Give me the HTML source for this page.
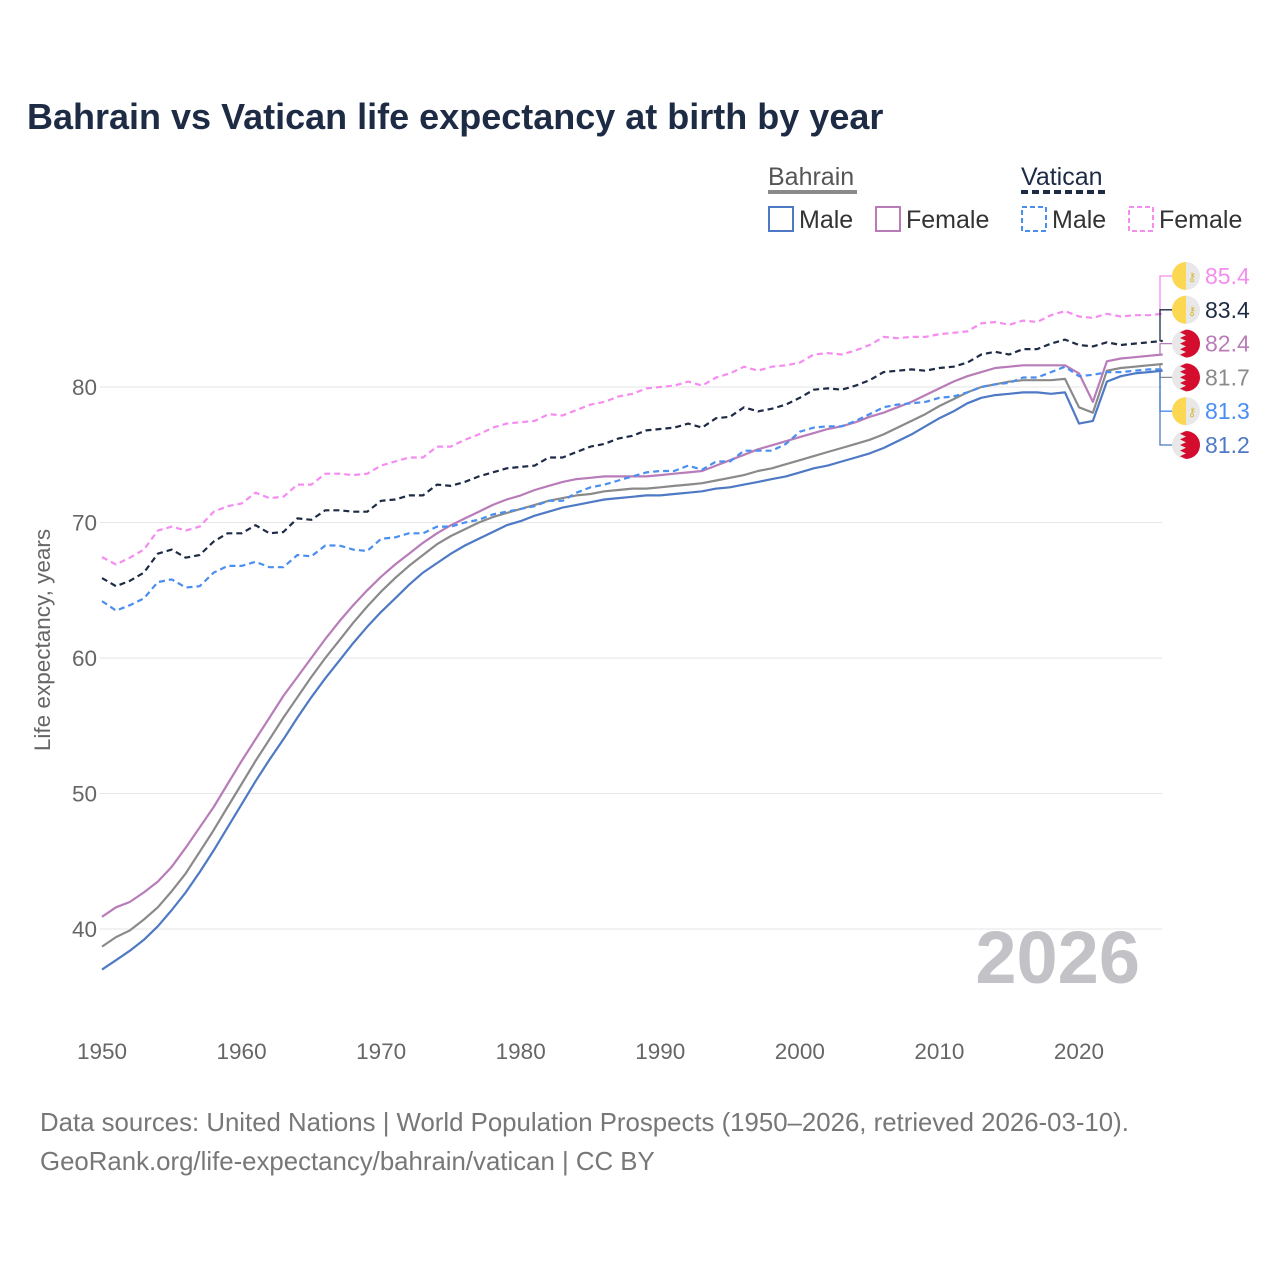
<!DOCTYPE html>
<html><head><meta charset="utf-8">
<style>
body{margin:0;background:#fff;font-family:"Liberation Sans",sans-serif;}
#wrap{position:relative;width:1280px;height:1280px;overflow:hidden;}
</style></head>
<body>
<div id="wrap">
<svg id="chart" width="1280" height="1280" xmlns="http://www.w3.org/2000/svg">
<text x="27" y="129" font-size="36" font-weight="bold" fill="#1e2b45">Bahrain vs Vatican life expectancy at birth by year</text>
<g font-size="25">
<text x="768" y="185" fill="#555">Bahrain</text>
<line x1="768" y1="192" x2="857" y2="192" stroke="#8a8a8a" stroke-width="4"/>
<text x="1021" y="185" fill="#1e2b45">Vatican</text>
<line x1="1021" y1="192" x2="1107" y2="192" stroke="#1e2b45" stroke-width="4" stroke-dasharray="7,4"/>
<g><rect x="769" y="207" width="24" height="24" fill="none" stroke="#4e79c4" stroke-width="2"/><text x="799" y="228" fill="#333">Male</text></g>
<g><rect x="876" y="207" width="24" height="24" fill="none" stroke="#b87db8" stroke-width="2"/><text x="906" y="228" fill="#333">Female</text></g>
<g><rect x="1022" y="207" width="24" height="24" fill="none" stroke="#4a8ef0" stroke-width="2" stroke-dasharray="5,3"/><text x="1052" y="228" fill="#333">Male</text></g>
<g><rect x="1129" y="207" width="24" height="24" fill="none" stroke="#f58cf0" stroke-width="2" stroke-dasharray="5,3"/><text x="1159" y="228" fill="#333">Female</text></g>
</g>
<text transform="translate(50,640) rotate(-90)" text-anchor="middle" font-size="22.5" fill="#666">Life expectancy, years</text>
<g id="grid"></g>
<text x="1140" y="983" text-anchor="end" font-size="74" font-weight="bold" fill="#c2c2c7">2026</text>
<g id="lines"></g>
<g id="ends"></g>
<text x="40" y="1131" font-size="25.8" fill="#777">Data sources: United Nations | World Population Prospects (1950–2026, retrieved 2026-03-10).</text>
<text x="40" y="1170" font-size="25.8" fill="#777">GeoRank.org/life-expectancy/bahrain/vatican | CC BY</text>
</svg>
</div>
<script>
const startYear = 1950;
const yTicks = [40, 50, 60, 70, 80];
const xTicks = [1950, 1960, 1970, 1980, 1990, 2000, 2010, 2020];
const bahrainMale = [37.0,37.7,38.4,39.2,40.2,41.4,42.7,44.2,45.8,47.5,49.2,50.9,52.5,54.0,55.6,57.1,58.5,59.8,61.1,62.3,63.4,64.4,65.4,66.3,67.0,67.7,68.3,68.8,69.3,69.8,70.1,70.5,70.8,71.1,71.3,71.5,71.7,71.8,71.9,72.0,72.0,72.1,72.2,72.3,72.5,72.6,72.8,73.0,73.2,73.4,73.7,74.0,74.2,74.5,74.8,75.1,75.5,76.0,76.5,77.1,77.7,78.2,78.8,79.2,79.4,79.5,79.6,79.6,79.5,79.6,77.3,77.5,80.4,80.8,81.0,81.1,81.2];
const bahrainTotal = [38.7,39.4,39.9,40.7,41.6,42.8,44.1,45.7,47.3,49.0,50.7,52.4,54.0,55.6,57.1,58.6,60.0,61.3,62.6,63.8,64.9,65.9,66.8,67.6,68.4,69.0,69.5,70.0,70.4,70.7,71.0,71.3,71.6,71.8,72.0,72.1,72.3,72.4,72.5,72.5,72.6,72.7,72.8,72.9,73.1,73.3,73.5,73.8,74.0,74.3,74.6,74.9,75.2,75.5,75.8,76.1,76.5,77.0,77.5,78.0,78.6,79.1,79.6,80.0,80.2,80.4,80.5,80.5,80.5,80.6,78.5,78.1,81.2,81.4,81.5,81.6,81.7];
const bahrainFemale = [40.9,41.6,42.0,42.7,43.5,44.6,46.0,47.5,49.0,50.7,52.4,54.0,55.6,57.2,58.6,60.0,61.4,62.7,63.9,65.0,66.0,66.9,67.7,68.5,69.2,69.8,70.3,70.8,71.3,71.7,72.0,72.4,72.7,73.0,73.2,73.3,73.4,73.4,73.4,73.4,73.5,73.6,73.7,73.8,74.2,74.6,75.0,75.4,75.7,76.0,76.3,76.6,76.9,77.1,77.4,77.8,78.1,78.5,78.9,79.4,79.9,80.4,80.8,81.1,81.4,81.5,81.6,81.6,81.6,81.6,81.0,78.9,81.9,82.1,82.2,82.3,82.4];
const vaticanMale = [64.2,63.5,63.9,64.4,65.6,65.8,65.2,65.3,66.3,66.8,66.8,67.1,66.7,66.7,67.6,67.5,68.3,68.3,68.0,67.9,68.8,68.9,69.2,69.2,69.7,69.7,70.0,70.2,70.6,70.8,71.0,71.2,71.6,71.6,72.2,72.6,72.8,73.1,73.4,73.7,73.8,73.8,74.2,73.9,74.5,74.5,75.3,75.3,75.3,75.8,76.7,77.0,77.1,77.1,77.5,78.0,78.5,78.7,78.8,78.9,79.2,79.3,79.6,80.0,80.2,80.3,80.7,80.7,81.1,81.5,80.8,80.9,81.1,81.1,81.2,81.3,81.3];
const vaticanTotal = [65.9,65.3,65.7,66.3,67.7,68.0,67.4,67.6,68.6,69.2,69.2,69.8,69.2,69.3,70.3,70.2,70.9,70.9,70.8,70.8,71.6,71.7,72.0,72.0,72.8,72.7,73.0,73.4,73.7,74.0,74.1,74.2,74.8,74.8,75.2,75.6,75.8,76.2,76.4,76.8,76.9,77.0,77.3,77.0,77.7,77.8,78.5,78.2,78.4,78.7,79.2,79.8,79.9,79.8,80.1,80.5,81.1,81.2,81.3,81.2,81.4,81.5,81.8,82.4,82.6,82.4,82.8,82.8,83.2,83.5,83.1,83.0,83.3,83.1,83.2,83.3,83.4];
const vaticanFemale = [67.45,66.9,67.4,68.0,69.4,69.7,69.4,69.7,70.8,71.2,71.4,72.2,71.8,71.9,72.8,72.8,73.6,73.6,73.5,73.6,74.2,74.5,74.8,74.8,75.6,75.6,76.1,76.5,77.0,77.3,77.4,77.5,78.0,77.9,78.3,78.7,78.9,79.3,79.5,79.9,80.0,80.1,80.4,80.1,80.7,81.0,81.5,81.2,81.5,81.6,81.8,82.4,82.5,82.4,82.7,83.1,83.7,83.6,83.7,83.7,83.9,84.0,84.1,84.7,84.8,84.6,84.9,84.8,85.3,85.6,85.2,85.1,85.4,85.2,85.3,85.3,85.4];

const NS = 'http://www.w3.org/2000/svg';
const X0 = 102, X1 = 1162.7, Y80 = 387, PER10 = 135.5;
function xScale(yr){ return X0 + (yr - 1950) * (X1 - X0) / 76; }
function yScale(v){ return Y80 + (80 - v) * PER10 / 10; }
function mk(tag, attrs){ const e = document.createElementNS(NS, tag); for (const k in attrs) e.setAttribute(k, attrs[k]); return e; }

const grid = document.getElementById('grid');
yTicks.forEach(t => {
  const l = mk('line', {x1: 100, x2: 1162, y1: yScale(t), y2: yScale(t), stroke: '#e6e6e6', 'stroke-width': 1});
  
  
  grid.appendChild(l);
  const tx = mk('text', {x: 97, y: yScale(t) + 8, 'text-anchor': 'end', 'font-size': 22.5, fill: '#666'});
  tx.textContent = t;
  
  
  grid.appendChild(tx);
});
xTicks.forEach(t => {
  const tx = mk('text', {x: xScale(t), y: 1059, 'text-anchor': 'middle', 'font-size': 22.5, fill: '#666'});
  tx.textContent = t;
  
  
  grid.appendChild(tx);
});

const series = [
  {name: 'vatican-female', data: vaticanFemale, color: '#f58cf0', dash: '6,4', flag: 'va'},
  {name: 'vatican-total', data: vaticanTotal, color: '#1e2b45', dash: '6,4', flag: 'va'},
  {name: 'bahrain-female', data: bahrainFemale, color: '#b87db8', dash: '', flag: 'bh'},
  {name: 'bahrain-total', data: bahrainTotal, color: '#8a8a8a', dash: '', flag: 'bh'},
  {name: 'vatican-male', data: vaticanMale, color: '#4a8ef0', dash: '6,4', flag: 'va'},
  {name: 'bahrain-male', data: bahrainMale, color: '#4e79c4', dash: '', flag: 'bh'}
];
const lines = document.getElementById('lines');
const ends = document.getElementById('ends');
series.forEach((s, i) => {
  const d = s.data.map((v, k) => (k ? 'L' : 'M') + xScale(startYear + k).toFixed(1) + ',' + yScale(v).toFixed(1)).join(' ');
  const p = mk('path', {d: d, fill: 'none', stroke: s.color, 'stroke-width': 2.2, 'stroke-linejoin': 'round'});
  if (s.dash) p.setAttribute('stroke-dasharray', s.dash);
  
  
  lines.appendChild(p);
  const last = s.data[s.data.length - 1];
  const ly = 276 + i * 33.8;
  const ye = yScale(last);
  const c = mk('path', {d: 'M1162,' + ye.toFixed(1) + ' H1160 V' + ly.toFixed(1) + ' H1172', fill: 'none', stroke: s.color, 'stroke-width': 1.3});
  
  
  ends.appendChild(c);
  const g = mk('g', {});
  
  
  g.appendChild(mk('circle', {cx: 1186, cy: ly, r: 14, fill: '#e8e8e8'}));
  if (s.flag === 'va') {
    g.appendChild(mk('path', {d: 'M1186,' + (ly - 14) + ' A14,14 0 0 0 1186,' + (ly + 14) + ' Z', fill: '#fcd752'}));
    g.appendChild(mk('text', {x: 1192, y: ly + 5, 'font-size': 12, fill: '#d9b93a', 'text-anchor': 'middle'})).textContent = '⚷';
  } else {
    let zz = 'M1186,' + (ly - 14) + ' A14,14 0 0 1 1186,' + (ly + 14);
    for (let k = 0; k < 5; k++) {
      const y0 = ly + 14 - k * 5.6;
      zz += ' L1180,' + (y0 - 2.8).toFixed(1) + ' L1186,' + (y0 - 5.6).toFixed(1);
    }
    zz += ' Z';
    g.appendChild(mk('path', {d: zz, fill: '#d40c2d'}));
  }
  ends.appendChild(g);
  const t = mk('text', {x: 1205, y: ly + 8, 'font-size': 23, fill: s.color});
  t.textContent = last.toFixed(1);
  
  
  ends.appendChild(t);
});
</script>
</body></html>
